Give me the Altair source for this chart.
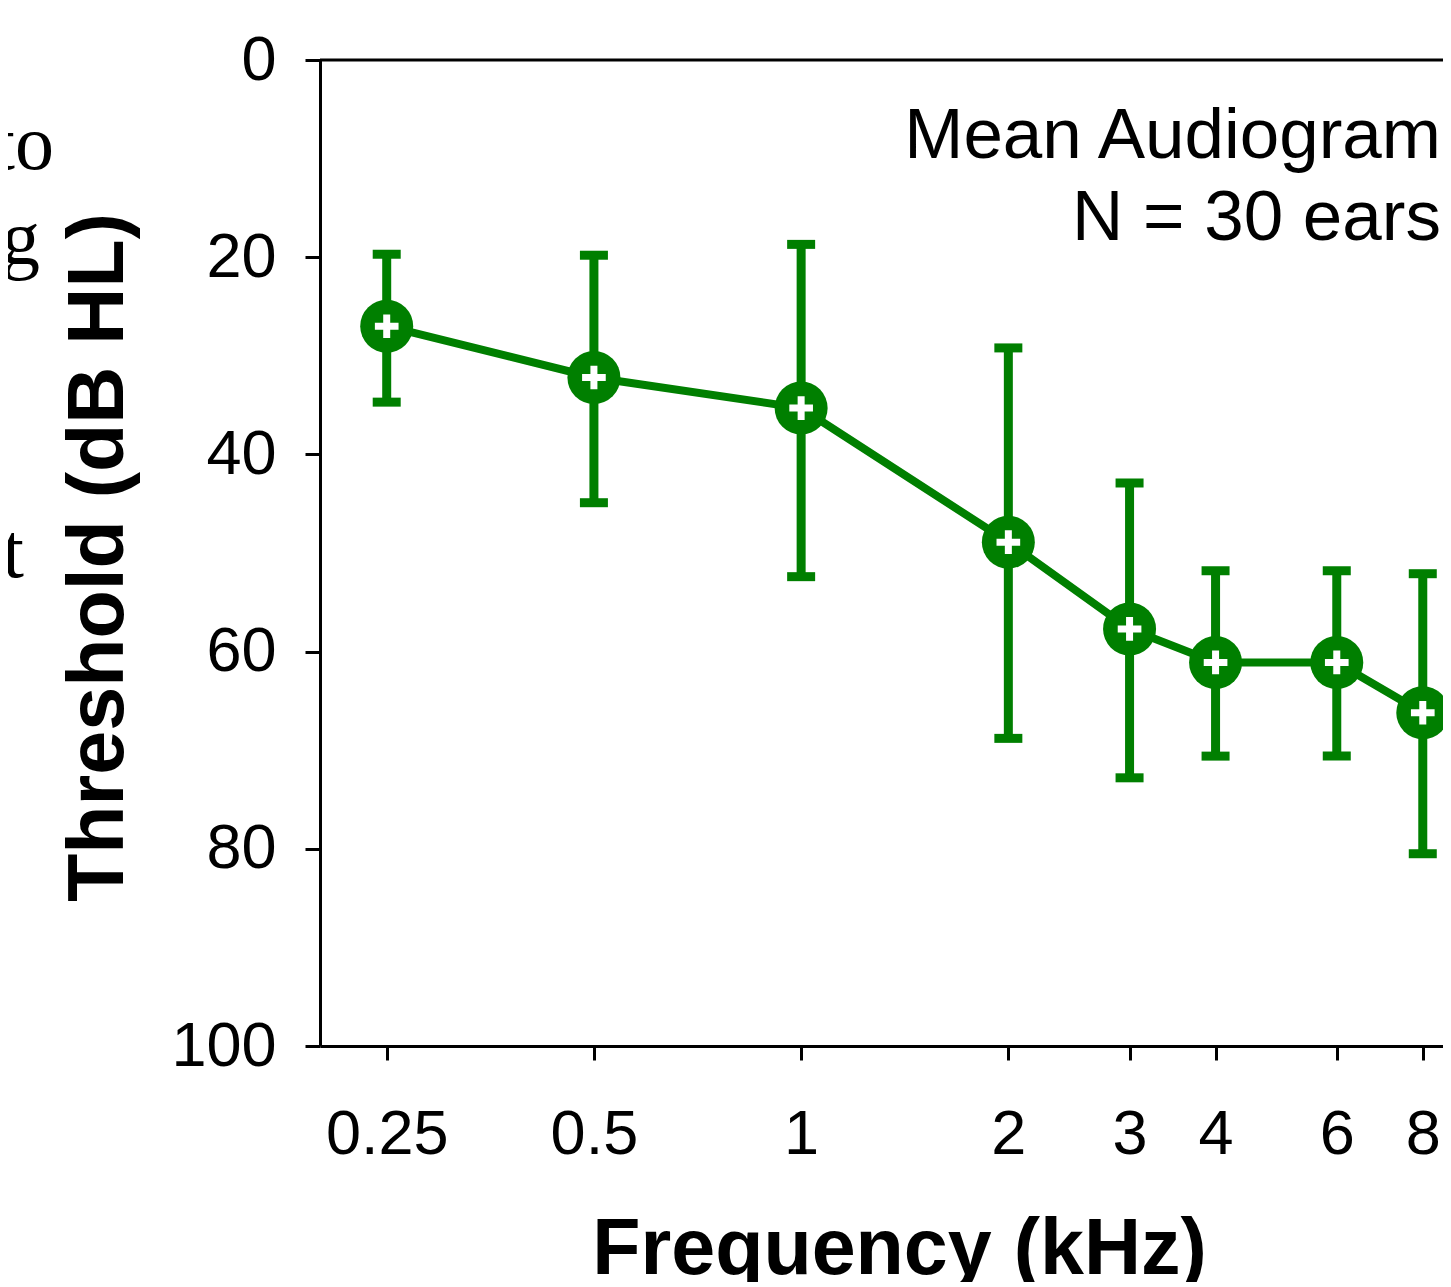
import altair as alt
import pandas as pd

# ---- data ----
freq_khz = [0.25, 0.5, 1, 2, 3, 4, 6, 8]
mean_db = [27.0, 32.2, 35.3, 48.9, 57.7, 61.1, 61.1, 66.2]
err_top_db = [19.7, 19.8, 18.7, 29.2, 42.9, 51.8, 51.8, 52.1]
err_bottom_db = [34.7, 44.9, 52.4, 68.8, 72.8, 70.6, 70.6, 80.5]
x_tick_values = [0.25, 0.5, 1, 2, 3, 4, 6, 8]
y_tick_values = [0, 20, 40, 60, 80, 100]
annotation_lines = ["Mean Audiogram", "N = 30 ears"]
fragment_texts = ["to", "g", "t"]

df = pd.DataFrame({
    "freq": freq_khz,
    "mean": mean_db,
    "top": err_top_db,
    "bottom": err_bottom_db,
})

GREEN = "#007f00"
W, H = 1123, 986
SANS = "Liberation Sans"

x_enc = alt.X(
    "freq:Q",
    scale=alt.Scale(type="log", domain=[0.2, 8.56], nice=False, zero=False),
    axis=alt.Axis(
        values=x_tick_values,
        format="~g",
        title="Frequency (kHz)",
        grid=False,
        domainColor="black",
        domainWidth=3,
        tickColor="black",
        tickWidth=3,
        tickSize=14,
        labelFont=SANS,
        labelFontSize=63,
        labelColor="black",
        labelBaseline="alphabetic",
        labelPadding=93,
        labelOverlap=False,
        labelFlush=False,
        titleFont=SANS,
        titleFontSize=79,
        titleFontWeight="bold",
        titleColor="black",
        titleX=579,
        titleY=227,
        titleAlign="center",
        titleBaseline="alphabetic",
    ),
)

y_enc = alt.Y(
    "mean:Q",
    scale=alt.Scale(domain=[0, 100], reverse=True, nice=False),
    axis=alt.Axis(
        values=y_tick_values,
        title="Threshold (dB HL)",
        grid=False,
        domainColor="black",
        domainWidth=3,
        tickColor="black",
        tickWidth=3,
        tickSize=15,
        labelFont=SANS,
        labelFontSize=63,
        labelColor="black",
        labelPadding=29,
        labelOverlap=False,
        labelFlush=False,
        titleFont=SANS,
        titleFontSize=79,
        titleFontWeight="bold",
        titleColor="black",
        titleAngle=270,
        titleX=-198,
        titleY=497,
        titleAlign="center",
        titleBaseline="alphabetic",
    ),
)

base = alt.Chart(df)

line = base.mark_line(color=GREEN, strokeWidth=8).encode(x=x_enc, y=y_enc)

bars = base.mark_rule(color=GREEN, strokeWidth=9).encode(
    x="freq:Q", y="top:Q", y2="bottom:Q"
)
caps_top = base.mark_tick(
    color=GREEN, orient="horizontal", size=28, thickness=9, opacity=1
).encode(x="freq:Q", y="top:Q")
caps_bottom = base.mark_tick(
    color=GREEN, orient="horizontal", size=28, thickness=9, opacity=1
).encode(x="freq:Q", y="bottom:Q")

circles = base.mark_point(
    shape="circle", filled=True, fill=GREEN, fillOpacity=1, strokeOpacity=0,
    size=2809, opacity=1
).encode(x="freq:Q", y="mean:Q")
plus = base.mark_point(
    shape="M-1,0L1,0M0,-1L0,1", filled=False, stroke="white", strokeWidth=7,
    strokeOpacity=1, strokeCap="butt", size=560, opacity=1
).encode(x="freq:Q", y="mean:Q")

one = pd.DataFrame({"k": [0]})
top_rule = alt.Chart(one).mark_rule(color="black", strokeWidth=3).encode(
    x=alt.value(0), x2=alt.value(W), y=alt.value(0)
)

ann1 = alt.Chart(one).mark_text(
    text=annotation_lines[0], font=SANS, fontSize=71, align="right",
    baseline="alphabetic", color="black"
).encode(x=alt.value(1121), y=alt.value(98))
ann2 = alt.Chart(one).mark_text(
    text=annotation_lines[1], font=SANS, fontSize=71, align="right",
    baseline="alphabetic", color="black"
).encode(x=alt.value(1121), y=alt.value(180))

frag_pos = [(-266, 109), (-280, 204), (-296, 517)]
frags = [
    alt.Chart(one).mark_text(
        text=t, font="Liberation Serif", fontSize=78, align="right",
        baseline="alphabetic", color="black"
    ).encode(x=alt.value(px), y=alt.value(py))
    for t, (px, py) in zip(fragment_texts, frag_pos)
]

chart = alt.layer(
    line, bars, caps_top, caps_bottom, circles, plus, top_rule, ann1, ann2, *frags
).properties(
    width=W,
    height=H,
    autosize=alt.AutoSizeParams(type="none"),
    padding={"left": 312, "top": 52, "right": 0, "bottom": 236},
    background="white",
).configure_view(stroke=None)

chart.save("out.html", embed_options={"renderer": "svg", "actions": False})
